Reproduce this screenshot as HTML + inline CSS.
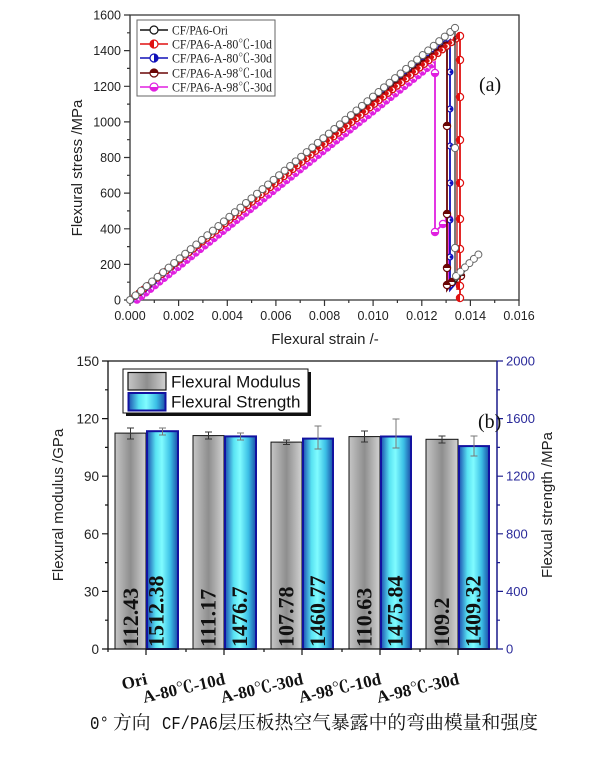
<!DOCTYPE html>
<html><head><meta charset="utf-8"><style>
html,body{margin:0;padding:0;background:#fff;}
svg{display:block;}
.ar{font-family:"Liberation Sans",Arial,sans-serif;}
.tm{font-family:"Liberation Serif","Noto Serif CJK SC",serif;}
</style></head><body>
<svg width="600" height="759" viewBox="0 0 600 759" xmlns="http://www.w3.org/2000/svg">
<defs>
<linearGradient id="gg" x1="0" y1="0" x2="1" y2="0">
<stop offset="0" stop-color="#c6c6c6"/><stop offset="0.5" stop-color="#8e8e8e"/><stop offset="1" stop-color="#d2d2d2"/>
</linearGradient>
<linearGradient id="cg" x1="0" y1="0" x2="1" y2="0">
<stop offset="0" stop-color="#1c4fb0"/><stop offset="0.28" stop-color="#58e2f2"/><stop offset="0.48" stop-color="#80fcff"/><stop offset="0.75" stop-color="#3cc0e6"/><stop offset="1" stop-color="#1a4ea8"/>
</linearGradient>
</defs>
<rect width="600" height="759" fill="#fff"/>

<!-- ================= Chart (a) ================= -->
<g fill="none" stroke="#333" stroke-width="1.3">
<path d="M130,15 H519 V300 H130 Z"/>
</g>
<path d="M130,300v6M178.6,300v6M227.3,300v6M275.9,300v6M324.5,300v6M373.1,300v6M421.8,300v6M470.4,300v6M519,300v6M154.3,300v3M202.9,300v3M251.6,300v3M300.2,300v3M348.8,300v3M397.4,300v3M446.1,300v3M494.7,300v3" stroke="#333" stroke-width="1.2"/>
<path d="M130,300h-6M130,264.4h-6M130,228.8h-6M130,193.1h-6M130,157.5h-6M130,121.9h-6M130,86.3h-6M130,50.6h-6M130,15h-6M130,282.2h-3M130,246.6h-3M130,210.9h-3M130,175.3h-3M130,139.7h-3M130,104.1h-3M130,68.4h-3M130,32.8h-3" stroke="#333" stroke-width="1.2"/>
<g class="ar" font-size="12.5" fill="#222" text-anchor="middle">
<text x="130" y="320">0.000</text><text x="178.6" y="320">0.002</text><text x="227.3" y="320">0.004</text><text x="275.9" y="320">0.006</text><text x="324.5" y="320">0.008</text><text x="373.1" y="320">0.010</text><text x="421.8" y="320">0.012</text><text x="470.4" y="320">0.014</text><text x="519" y="320">0.016</text>
</g>
<g class="ar" font-size="12.5" fill="#222" text-anchor="end">
<text x="121" y="304.5">0</text><text x="121" y="268.9">200</text><text x="121" y="233.3">400</text><text x="121" y="197.6">600</text><text x="121" y="162">800</text><text x="121" y="126.4">1000</text><text x="121" y="90.8">1200</text><text x="121" y="55.1">1400</text><text x="121" y="19.5">1600</text>
</g>
<text class="ar" font-size="15" fill="#222" text-anchor="middle" x="325" y="344">Flexural strain /-</text>
<text class="ar" font-size="15" fill="#222" text-anchor="middle" transform="translate(82,168) rotate(-90)">Flexural stress /MPa</text>
<text class="tm" font-size="20" fill="#111" x="479" y="91">(a)</text>

<!-- series: magenta -->
<path d="M137,300 L435,62 L435,232 L443,224 L449,219 L449,285" fill="none" stroke="#e020e0" stroke-width="1.8"/>
<path d="M137,300 L435,62" fill="none" stroke="#e020e0" stroke-width="7.5" stroke-linecap="round" stroke-dasharray="0.001 5.8"/>
<path d="M137,300 L435,62" fill="none" stroke="#fff" stroke-width="4.8" stroke-linecap="round" stroke-dasharray="0.001 5.8"/>
<path d="M137,300 L435,62" fill="none" stroke="#e020e0" stroke-width="4" stroke-linecap="round" stroke-dasharray="0.001 5.8" transform="translate(0,1.4)"/>
<g fill="#fff" stroke="#e020e0" stroke-width="1.2">
<circle cx="435" cy="73" r="3.6"/><circle cx="435" cy="232" r="3.6"/><circle cx="443" cy="224" r="3.6"/><circle cx="449" cy="219" r="3.6"/>
</g>
<g fill="#e020e0"><path d="M431.4,73a3.6,3.6 0 0 0 7.2,0z"/><path d="M431.4,232a3.6,3.6 0 0 0 7.2,0z"/><path d="M439.4,224a3.6,3.6 0 0 0 7.2,0z"/><path d="M445.4,219a3.6,3.6 0 0 0 7.2,0z"/></g>

<!-- series: blue -->
<path d="M131,300 L450,40 L450,290 L456,283" fill="none" stroke="#1010b8" stroke-width="1.8"/>
<path d="M131,300 L450,40" fill="none" stroke="#1010c0" stroke-width="7" stroke-linecap="round" stroke-dasharray="0.001 5.8"/>
<path d="M131,300 L450,40" fill="none" stroke="#fff" stroke-width="4.4" stroke-linecap="round" stroke-dasharray="0.001 5.8"/>
<path d="M450,72 L450,280" fill="none" stroke="#1010c0" stroke-width="7" stroke-linecap="round" stroke-dasharray="0.001 37"/>
<path d="M450,72 L450,280" fill="none" stroke="#fff" stroke-width="4.6" stroke-linecap="round" stroke-dasharray="0.001 37"/>
<path d="M451.3,72 L451.3,280" fill="none" stroke="#1010c0" stroke-width="3.4" stroke-linecap="round" stroke-dasharray="0.001 37"/>

<!-- series: brown -->
<path d="M130,300 L447,44 L447,290 L452,283 L458,279 L462,276" fill="none" stroke="#6a0606" stroke-width="1.8"/>
<path d="M130,300 L447,44" fill="none" stroke="#6a0606" stroke-width="7" stroke-linecap="round" stroke-dasharray="0.001 5.8"/>
<path d="M130,300 L447,44" fill="none" stroke="#fff" stroke-width="4.4" stroke-linecap="round" stroke-dasharray="0.001 5.8"/>
<path d="M130,300 L447,44" fill="none" stroke="#6a0606" stroke-width="3.8" stroke-linecap="round" stroke-dasharray="0.001 5.8" transform="translate(0,-1.3)"/>
<g fill="#fff" stroke="#6a0606" stroke-width="1.2">
<circle cx="447" cy="126" r="3.6"/><circle cx="447" cy="214" r="3.6"/><circle cx="447" cy="268" r="3.6"/><circle cx="447" cy="285" r="3.6"/><circle cx="452" cy="282" r="3.6"/><circle cx="457" cy="279" r="3.6"/><circle cx="461" cy="276" r="3.6"/>
</g>
<g fill="#6a0606"><path d="M443.4,126a3.6,3.6 0 0 1 7.2,0z"/><path d="M443.4,214a3.6,3.6 0 0 1 7.2,0z"/><path d="M443.4,268a3.6,3.6 0 0 1 7.2,0z"/><path d="M443.4,285a3.6,3.6 0 0 1 7.2,0z"/><path d="M448.4,282a3.6,3.6 0 0 1 7.2,0z"/><path d="M453.4,279a3.6,3.6 0 0 1 7.2,0z"/><path d="M457.4,276a3.6,3.6 0 0 1 7.2,0z"/></g>

<!-- series: red -->
<path d="M130,300 L460,36 L460,302" fill="none" stroke="#e01010" stroke-width="1.8"/>
<path d="M457,40 L457,290" fill="none" stroke="#b00000" stroke-width="1.2"/>
<path d="M130,300 L460,36" fill="none" stroke="#d81010" stroke-width="7" stroke-linecap="round" stroke-dasharray="0.001 5.8"/>
<path d="M130,300 L460,36" fill="none" stroke="#fff" stroke-width="4.4" stroke-linecap="round" stroke-dasharray="0.001 5.8"/>
<path d="M130,300 L460,36" fill="none" stroke="#d81010" stroke-width="3.8" stroke-linecap="round" stroke-dasharray="0.001 5.8" transform="translate(-1.3,0)"/>
<g fill="#fff" stroke="#e01010" stroke-width="1.2">
<circle cx="460" cy="36" r="3.6"/><circle cx="460" cy="60" r="3.6"/><circle cx="460" cy="97" r="3.6"/><circle cx="460" cy="140" r="3.6"/><circle cx="460" cy="183" r="3.6"/><circle cx="460" cy="219" r="3.6"/><circle cx="460" cy="249" r="3.6"/><circle cx="460" cy="286" r="3.6"/><circle cx="460" cy="298" r="3.6"/>
</g>
<g fill="#e01010"><path d="M460,32.4a3.6,3.6 0 0 0 0,7.2z"/><path d="M460,56.4a3.6,3.6 0 0 0 0,7.2z"/><path d="M460,93.4a3.6,3.6 0 0 0 0,7.2z"/><path d="M460,136.4a3.6,3.6 0 0 0 0,7.2z"/><path d="M460,179.4a3.6,3.6 0 0 0 0,7.2z"/><path d="M460,215.4a3.6,3.6 0 0 0 0,7.2z"/><path d="M460,245.4a3.6,3.6 0 0 0 0,7.2z"/><path d="M460,282.4a3.6,3.6 0 0 0 0,7.2z"/><path d="M460,294.4a3.6,3.6 0 0 0 0,7.2z"/></g>

<!-- series: Ori -->
<path d="M130,300 L455,28 L455,283 L480,253" fill="none" stroke="#222" stroke-width="1.2"/>
<path d="M130,300 L455,28" fill="none" stroke="#666" stroke-width="8" stroke-linecap="round" stroke-dasharray="0.001 7.2"/>
<path d="M130,300 L455,28" fill="none" stroke="#fff" stroke-width="6" stroke-linecap="round" stroke-dasharray="0.001 7.2"/>
<path d="M456,276 L480,253" fill="none" stroke="#666" stroke-width="8" stroke-linecap="round" stroke-dasharray="0.001 6.2"/>
<path d="M456,276 L480,253" fill="none" stroke="#fff" stroke-width="6" stroke-linecap="round" stroke-dasharray="0.001 6.2"/>
<g fill="#fff" stroke="#666" stroke-width="1"><circle cx="455" cy="28" r="3.6"/><circle cx="455" cy="148" r="3.6"/><circle cx="455" cy="248" r="3.6"/></g>

<!-- legend (a) -->
<rect x="137" y="20" width="138" height="76" fill="#fff" stroke="#666" stroke-width="1"/>
<g stroke-width="1.6">
<line x1="140" y1="30" x2="168" y2="30" stroke="#111"/>
<line x1="140" y1="44" x2="168" y2="44" stroke="#e01010"/>
<line x1="140" y1="58" x2="168" y2="58" stroke="#1010b8"/>
<line x1="140" y1="73" x2="168" y2="73" stroke="#6a0606"/>
<line x1="140" y1="87" x2="168" y2="87" stroke="#e020e0"/>
</g>
<circle cx="154" cy="30" r="4" fill="#fff" stroke="#111" stroke-width="1.2"/>
<circle cx="154" cy="44" r="4" fill="#fff" stroke="#e01010" stroke-width="1.2"/><path d="M154,40a4,4 0 0 0 0,8z" fill="#e01010"/>
<circle cx="154" cy="58" r="4" fill="#fff" stroke="#1010b8" stroke-width="1.2"/><path d="M154,54a4,4 0 0 1 0,8z" fill="#1010b8"/>
<circle cx="154" cy="73" r="4" fill="#fff" stroke="#6a0606" stroke-width="1.2"/><path d="M150,73a4,4 0 0 1 8,0z" fill="#6a0606"/>
<circle cx="154" cy="87" r="4" fill="#fff" stroke="#e020e0" stroke-width="1.2"/><path d="M150,87a4,4 0 0 0 8,0z" fill="#e020e0"/>
<g class="tm" font-size="12.5" fill="#222">
<text x="172" y="34.5" textLength="56" lengthAdjust="spacingAndGlyphs">CF/PA6-Ori</text>
<text x="172" y="48.5" textLength="100" lengthAdjust="spacingAndGlyphs">CF/PA6-A-80℃-10d</text>
<text x="172" y="62.5" textLength="100" lengthAdjust="spacingAndGlyphs">CF/PA6-A-80℃-30d</text>
<text x="172" y="77.5" textLength="100" lengthAdjust="spacingAndGlyphs">CF/PA6-A-98℃-10d</text>
<text x="172" y="91.5" textLength="100" lengthAdjust="spacingAndGlyphs">CF/PA6-A-98℃-30d</text>
</g>

<!-- ================= Chart (b) ================= -->
<g stroke="#111" stroke-width="1" fill="url(#gg)">
<rect x="115" y="433.1" width="31" height="215.9"/>
<rect x="193" y="435.6" width="31" height="213.4"/>
<rect x="271" y="442.1" width="31" height="206.9"/>
<rect x="349" y="436.6" width="31" height="212.4"/>
<rect x="426" y="439.3" width="32" height="209.7"/>
</g>
<g stroke="#1212a0" stroke-width="2" fill="url(#cg)">
<rect x="147" y="431.2" width="31" height="217.8"/>
<rect x="225" y="436.4" width="31" height="212.6"/>
<rect x="303" y="438.6" width="30" height="210.4"/>
<rect x="381" y="436.5" width="30" height="212.5"/>
<rect x="459" y="446.1" width="30" height="202.9"/>
</g>
<g stroke="#333" stroke-width="1" fill="none">
<path d="M130.5,428V439M127,428h7M127,439h7"/>
<path d="M208.5,432V439M205,432h7M205,439h7"/>
<path d="M286.5,440V444.5M283,440h7M283,444.5h7"/>
<path d="M364.5,431V442M361,431h7M361,442h7"/>
<path d="M442,436V443M438.5,436h7M438.5,443h7"/>
</g>
<g stroke="#777" stroke-width="1" fill="none">
<path d="M162.5,428V435M159,428h7M159,435h7"/>
<path d="M240.5,433V440M237,433h7M237,440h7"/>
<path d="M318,426V449M314.5,426h7M314.5,449h7"/>
<path d="M396,419V448M392.5,419h7M392.5,448h7"/>
<path d="M474,436V456M470.5,436h7M470.5,456h7"/>
</g>
<g class="tm" font-size="22" font-weight="bold" fill="#111">
<text transform="translate(138,647) rotate(-90)">112.43</text>
<text transform="translate(163.5,647) rotate(-90)">1512.38</text>
<text transform="translate(215.5,647) rotate(-90)">111.17</text>
<text transform="translate(247,647) rotate(-90)">1476.7</text>
<text transform="translate(293.5,647) rotate(-90)">107.78</text>
<text transform="translate(325,647) rotate(-90)">1460.77</text>
<text transform="translate(371.5,647) rotate(-90)">110.63</text>
<text transform="translate(402.5,647) rotate(-90)">1475.84</text>
<text transform="translate(449,647) rotate(-90)">109.2</text>
<text transform="translate(480.5,647) rotate(-90)">1409.32</text>
</g>
<path d="M108,361 H497" stroke="#111" stroke-width="1.2"/>
<path d="M108,361 V649 H497" fill="none" stroke="#111" stroke-width="1.3"/>
<path d="M497,361 V649" stroke="#1a1a8c" stroke-width="1.5"/>
<path d="M108,649h-6M108,591.4h-6M108,533.8h-6M108,476.2h-6M108,418.6h-6M108,361h-6M108,620.2h-3M108,562.6h-3M108,505h-3M108,447.4h-3M108,389.8h-3" stroke="#111" stroke-width="1.2"/>
<path d="M497,649h6M497,591.4h6M497,533.8h6M497,476.2h6M497,418.6h6M497,361h6M497,620.2h3M497,562.6h3M497,505h3M497,447.4h3M497,389.8h3" stroke="#1a1a8c" stroke-width="1.2"/>
<path d="M146,649v6M224,649v6M302,649v6M380,649v6M458,649v6M108,649v3M186,649v3M264,649v3M342,649v3M420,649v3" stroke="#111" stroke-width="1.2"/>
<g class="ar" font-size="13.5" fill="#222" text-anchor="end">
<text x="99" y="654">0</text><text x="99" y="596.4">30</text><text x="99" y="538.8">60</text><text x="99" y="481.2">90</text><text x="99" y="423.6">120</text><text x="99" y="366">150</text>
</g>
<g class="ar" font-size="13" fill="#2a2a9a">
<text x="506" y="653.5">0</text><text x="506" y="596">400</text><text x="506" y="538.3">800</text><text x="506" y="480.7">1200</text><text x="506" y="423.1">1600</text><text x="506" y="365.5">2000</text>
</g>
<text class="ar" font-size="15" fill="#222" text-anchor="middle" transform="translate(63,505) rotate(-90)">Flexural modulus /GPa</text>
<text class="ar" font-size="15" fill="#222" text-anchor="middle" transform="translate(552,505) rotate(-90)">Flexual strength /MPa</text>
<text class="tm" font-size="20" fill="#111" x="478" y="428">(b)</text>
<g class="tm" font-size="17" font-weight="bold" fill="#111" text-anchor="end">
<text transform="translate(148,684) rotate(-13)">Ori</text>
<text transform="translate(226,684) rotate(-13)">A-80℃-10d</text>
<text transform="translate(304,684) rotate(-13)">A-80℃-30d</text>
<text transform="translate(382,684) rotate(-13)">A-98℃-10d</text>
<text transform="translate(460,684) rotate(-13)">A-98℃-30d</text>
</g>
<rect x="126" y="372" width="185" height="44" fill="#111"/>
<rect x="123" y="369" width="185" height="44" fill="#fff" stroke="#111" stroke-width="1"/>
<rect x="128" y="372.5" width="38" height="17.5" fill="url(#gg)" stroke="#111" stroke-width="1.2"/>
<rect x="128.5" y="393" width="37" height="17.5" fill="url(#cg)" stroke="#1212a0" stroke-width="2"/>
<g class="ar" font-size="17" fill="#111">
<text x="171" y="387.5">Flexural Modulus</text>
<text x="171" y="407.5">Flexural Strength</text>
</g>

<g font-size="18.5" fill="#111">
<text x="90" y="729" font-family="'Liberation Mono','Noto Serif CJK SC',monospace" textLength="19" lengthAdjust="spacingAndGlyphs">0°</text>
<text x="113" y="729" font-family="'Liberation Serif','Noto Serif CJK SC',serif" textLength="37.6" lengthAdjust="spacingAndGlyphs">方向</text>
<text x="162" y="729" font-family="'Liberation Mono','Noto Serif CJK SC',monospace" textLength="56" lengthAdjust="spacingAndGlyphs">CF/PA6</text>
<text x="218" y="729" font-family="'Liberation Serif','Noto Serif CJK SC',serif" textLength="320" lengthAdjust="spacingAndGlyphs">层压板热空气暴露中的弯曲模量和强度</text>
</g>
</svg>
</body></html>
